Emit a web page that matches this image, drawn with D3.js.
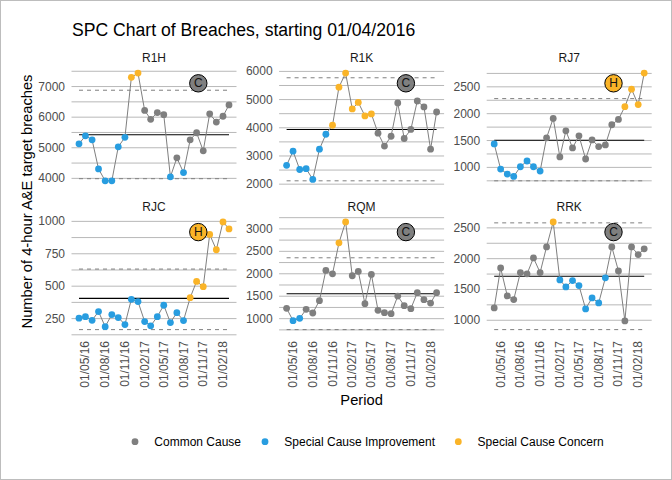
<!DOCTYPE html>
<html><head><meta charset="utf-8">
<script src="https://cdn.jsdelivr.net/npm/d3@7"></script>
<style>body{margin:0;background:#fff}text{font-family:"Liberation Sans",Arial,sans-serif}</style>
</head><body>
<script>
// ---- data ----
const periods = ["2016-04-01","2016-05-01","2016-06-01","2016-07-01","2016-08-01","2016-09-01","2016-10-01","2016-11-01","2016-12-01","2017-01-01","2017-02-01","2017-03-01","2017-04-01","2017-05-01","2017-06-01","2017-07-01","2017-08-01","2017-09-01","2017-10-01","2017-11-01","2017-12-01","2018-01-01","2018-02-01","2018-03-01"];
const trusts = ["R1H","R1K","RJ7","RJC","RQM","RRK"];
const r1hValues = [5130,5390,5260,4310,3920,3920,5030,5340,7300,7440,6220,5930,6150,6080,4050,4670,4190,5260,5490,4900,6110,5840,6030,6400];
const r1kValues = [2670,3170,2520,2550,2170,3240,3770,4090,5440,5940,4670,4900,4420,4490,3810,3350,3700,4880,3620,3940,4950,4740,3240,4560];
const rj7Values = [1437,969,875,831,1012,1119,1012,931,1550,1912,1194,1681,1362,1587,1156,1512,1387,1419,1794,1894,2131,2456,2169,2756];
const rjcValues = [253,265,237,304,188,281,258,204,399,381,227,194,265,353,219,296,235,411,537,496,899,781,996,942];
const rqmValues = [1230,956,1007,1207,1126,1400,2074,2000,2689,3156,1956,2052,1333,1985,1185,1133,1111,1504,1289,1222,1578,1422,1348,1578];
const rrkValues = [1200,1850,1395,1336,1774,1753,2012,1774,2191,2597,1655,1541,1644,1563,1184,1363,1282,1688,2191,1801,989,2191,2067,2159];
// point types: C = common cause, I = special cause improvement, K = special cause concern
const r1hTypes = "IIIIIIIIKKCCCCICICCCCCCC".split("");
const r1kTypes = "IIIIIIIKKKKKKKCCCCCCCCCC".split("");
const rj7Types = "IIIIIIIICCCCCCCCCCCCKKKK".split("");
const rjcTypes = "IIIIIIIIIIIIIIIIIKKKKKKK".split("");
const rqmTypes = "CIICCCCCKKCCCCCCCCCCCCCC".split("");
const rrkTypes = "CCCCCCCCCKIIIIIIIICCCCCC".split("");
const centerLines = [5424,3940,1506,406,1556,1715];
const upperLimits = [6880,5774,2281,632,2356,2581];
const lowerLimits = [3989,2119,750,165,756,848];
const badges = ["C","C","H","H","C","C"];
const yTickValues = [[4000,5000,6000,7000],[2000,3000,4000,5000,6000],[1000,1500,2000,2500],[250,500,750,1000],[1000,1500,2000,2500,3000],[1000,1500,2000,2500]];
const xTickDates = ["2016-05-01","2016-08-01","2016-11-01","2017-02-01","2017-05-01","2017-08-01","2017-11-01","2018-02-01"];
const legendLabels = ["Common Cause","Special Cause Improvement","Special Cause Concern"];

const seriesValues = [r1hValues,r1kValues,rj7Values,rjcValues,rqmValues,rrkValues];
const seriesTypes = [r1hTypes,r1kTypes,rj7Types,rjcTypes,rqmTypes,rrkTypes];
const typeColor = {C:"#7f7f7f", I:"#289de0", K:"#fab428"};
const legendColors = ["#7f7f7f","#289de0","#fab428"];
const badgeColor = {C:"#7f7f7f", H:"#fab428"};

const W = 672, H = 480;
const svg = d3.select("body").append("svg").attr("width",W).attr("height",H);
svg.append("rect").attr("x",0.5).attr("y",0.5).attr("width",W-1).attr("height",H-1)
  .attr("fill","#fff").attr("stroke","#bdbdbd");

const parse = d3.timeParse("%Y-%m-%d");
const dates = periods.map(parse);
const t0 = dates[0], t1 = dates[dates.length-1];
const span = t1 - t0;
const xDomain = [new Date(+t0 - span*0.05), new Date(+t1 + span*0.05)];

const panelW = 165, panelLefts = [71.5, 279.1, 486.7];
const panelTops = [67.7, 216.5], panelH = 118.5;
const fmt = d3.timeFormat("%d/%m/%y");

trusts.forEach((name, i) => {
  const col = i % 3, row = Math.floor(i / 3);
  const left = panelLefts[col], top = panelTops[row];
  const vals = seriesValues[i], types = seriesTypes[i];
  const lo = Math.min(d3.min(vals), lowerLimits[i]);
  const hi = Math.max(d3.max(vals), upperLimits[i]);
  const pad = (hi - lo) * 0.05;
  const x = d3.scaleTime().domain(xDomain).range([left, left + panelW]);
  const y = d3.scaleLinear().domain([lo - pad, hi + pad]).range([top + panelH, top]);
  const g = svg.append("g");

  // grid lines (major + minor)
  const maj = yTickValues[i];
  const step = maj[1] - maj[0];
  const minors = [];
  for (let k = -1; k < maj.length; k++) minors.push(maj[0] + step * (k + 0.5));
  const dom = y.domain();
  const grid = maj.concat(minors).filter(v => v >= dom[0] && v <= dom[1]);
  g.selectAll(".grid").data(grid).join("line")
    .attr("x1", left).attr("x2", left + panelW)
    .attr("y1", d => y(d)).attr("y2", d => y(d))
    .attr("stroke", "#b8b8b8").attr("stroke-width", 1);

  // y tick labels
  g.selectAll(".ytl").data(maj).join("text")
    .attr("x", left - 6.5).attr("y", d => y(d))
    .attr("text-anchor", "end").attr("dominant-baseline", "central")
    .attr("font-size", 12).attr("fill", "#4d4d4d").text(d => d);

  // limits and center line
  const xa = x(t0), xb = x(t1);
  [upperLimits[i], lowerLimits[i]].forEach(v => {
    g.append("line").attr("x1", xa).attr("x2", xb).attr("y1", y(v)).attr("y2", y(v))
      .attr("stroke", "#7f7f7f").attr("stroke-width", 1).attr("stroke-dasharray", "4,4");
  });
  g.append("line").attr("x1", xa).attr("x2", xb).attr("y1", y(centerLines[i])).attr("y2", y(centerLines[i]))
    .attr("stroke", "#000").attr("stroke-width", 1.1);

  // series line
  const line = d3.line().x((d, j) => x(dates[j])).y(d => y(d));
  g.append("path").datum(vals).attr("d", line).attr("fill", "none")
    .attr("stroke", "#7f7f7f").attr("stroke-width", 1);

  // points
  g.selectAll(".pt").data(vals).join("circle")
    .attr("cx", (d, j) => x(dates[j])).attr("cy", d => y(d)).attr("r", 3.4)
    .attr("fill", (d, j) => typeColor[types[j]]);

  // strip label
  g.append("text").attr("x", left + panelW / 2).attr("y", top - 9.5)
    .attr("text-anchor", "middle").attr("dominant-baseline", "central")
    .attr("font-size", 12).attr("fill", "#1a1a1a").text(name);

  // badge
  const bx = left + 126.8, by = top + 15.6;
  g.append("circle").attr("cx", bx).attr("cy", by).attr("r", 8.7)
    .attr("fill", badgeColor[badges[i]]).attr("stroke", "#000").attr("stroke-width", 1);
  g.append("text").attr("x", bx).attr("y", by).attr("text-anchor", "middle")
    .attr("dominant-baseline", "central").attr("font-size", 12).attr("fill", "#111")
    .text(badges[i]);

  // x tick labels on bottom row
  if (row === 1) {
    g.selectAll(".xtl").data(xTickDates.map(parse)).join("text")
      .attr("transform", d => `translate(${x(d)},${top + panelH + 6}) rotate(-90)`)
      .attr("text-anchor", "end").attr("dominant-baseline", "central")
      .attr("font-size", 12).attr("fill", "#4d4d4d").text(d => fmt(d));
  }
});

// titles
svg.append("text").attr("x", 72).attr("y", 36).attr("font-size", 17.6).attr("fill", "#000")
  .text("SPC Chart of Breaches, starting 01/04/2016");
svg.append("text").attr("transform", "translate(27,201.5) rotate(-90)")
  .attr("text-anchor", "middle").attr("dominant-baseline", "central")
  .attr("font-size", 14.7).attr("fill", "#000").text("Number of 4-hour A&E target breaches");
svg.append("text").attr("x", 361.6).attr("y", 400).attr("text-anchor", "middle")
  .attr("dominant-baseline", "central").attr("font-size", 14.7).attr("fill", "#000").text("Period");

// legend
const legX = [135, 265, 458.3];
legendLabels.forEach((lab, k) => {
  svg.append("circle").attr("cx", legX[k]).attr("cy", 441.7).attr("r", 3.4).attr("fill", legendColors[k]);
  svg.append("text").attr("x", legX[k] + 19.3).attr("y", 442).attr("dominant-baseline", "central")
    .attr("font-size", 12).attr("fill", "#000").text(lab);
});
</script>
</body></html>
